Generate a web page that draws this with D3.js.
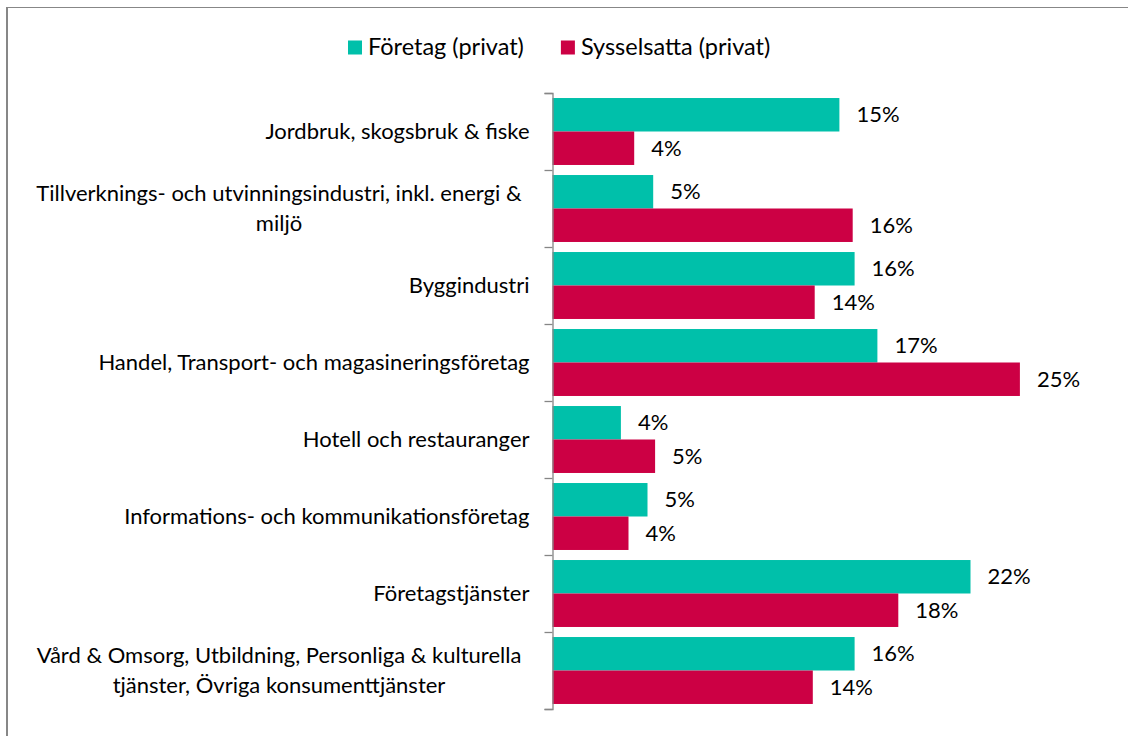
<!DOCTYPE html>
<html>
<head>
<meta charset="utf-8">
<title>Företag och sysselsatta per bransch</title>
<script src="https://cdn.jsdelivr.net/npm/d3@7"></script>
<style>
    body { margin: 0; background: #fff; }
    svg text { font-family: Lato, "Open Sans", sans-serif; fill: #000; }
</style>
</head>
<body>
<div id="chart"></div>
<script>

//******************************************************************************
//**  Data
//******************************************************************************
var categories = [
    ["Jordbruk, skogsbruk & fiske"],
    ["Tillverknings- och utvinningsindustri, inkl. energi &", "miljö"],
    ["Byggindustri"],
    ["Handel, Transport- och magasineringsföretag"],
    ["Hotell och restauranger"],
    ["Informations- och kommunikationsföretag"],
    ["Företagstjänster"],
    ["Vård & Omsorg, Utbildning, Personliga & kulturella", "tjänster, Övriga konsumenttjänster"]
];
var seriesNames = ["Företag (privat)", "Sysselsatta (privat)"];
var seriesColors = ["#00C0AA", "#CC0044"];
var foretag     = [0.151, 0.053, 0.159, 0.171, 0.036, 0.050, 0.220, 0.159];
var sysselsatta = [0.043, 0.158, 0.138, 0.246, 0.054, 0.040, 0.182, 0.137];
var xDomain = [0, 0.30];


//******************************************************************************
//**  Chart
//******************************************************************************
var width = 1128, height = 736;
var margin = {top: 93, left: 552.5, bottom: 27};
var fontSize = 22;
var legendFontSize = 23.5;
var lineHeight = 30;
var labelAreaCenter = 279;

var svg = d3.select("#chart").append("svg")
    .attr("width", width)
    .attr("height", height);


//Frame around chart area (only top and left edges are visible)
svg.append("line")
    .attr("x1", 7).attr("x2", 7)
    .attr("y1", 7).attr("y2", height)
    .attr("stroke", "#878787").attr("stroke-width", 2);
svg.append("line")
    .attr("x1", 6).attr("x2", width)
    .attr("y1", 7.5).attr("y2", 7.5)
    .attr("stroke", "#878787").attr("stroke-width", 1);


//Scales
var keys = categories.map(function(d, i){ return i; });
var y0 = d3.scaleBand()
    .domain(keys)
    .range([margin.top, height - margin.bottom]);

var y1 = d3.scaleBand()
    .domain(seriesNames)
    .range([0, y0.bandwidth()])
    .paddingInner(0)
    .paddingOuter(0.15);

var x = d3.scaleLinear()
    .domain(xDomain)
    .range([margin.left, margin.left + 570]);

var fmt = d3.format(".0%");


//Build rows from the named arrays
var rows = keys.map(function(i){
    return {
        index: i,
        label: categories[i],
        values: [
            {series: seriesNames[0], color: seriesColors[0], value: foretag[i]},
            {series: seriesNames[1], color: seriesColors[1], value: sysselsatta[i]}
        ]
    };
});


//Bars
var groups = svg.append("g").selectAll("g")
    .data(rows)
    .enter().append("g")
    .attr("transform", function(d){ return "translate(0," + y0(d.index) + ")"; });

groups.selectAll("rect")
    .data(function(d){ return d.values; })
    .enter().append("rect")
    .attr("x", x(0))
    .attr("y", function(d){ return y1(d.series); })
    .attr("width", function(d){ return x(d.value) - x(0); })
    .attr("height", y1.bandwidth())
    .attr("fill", function(d){ return d.color; });


//Data labels
groups.selectAll("text.value")
    .data(function(d){ return d.values; })
    .enter().append("text")
    .attr("class", "value")
    .attr("x", function(d){ return x(d.value) + 17; })
    .attr("y", function(d){ return y1(d.series) + y1.bandwidth()/2; })
    .attr("dy", "0.35em")
    .style("font-size", fontSize + "px")
    .text(function(d){ return fmt(d.value); });


//Category axis (line + outer ticks between categories)
var axis = d3.axisLeft(d3.scaleLinear()
        .domain([0, categories.length])
        .range([margin.top, height - margin.bottom]))
    .ticks(categories.length)
    .tickSize(8)
    .tickSizeOuter(8)
    .tickFormat("");

var axisG = svg.append("g")
    .attr("transform", "translate(" + margin.left + ",0)")
    .call(axis);
axisG.selectAll("path, line").attr("stroke", "#868686").attr("stroke-width", 1.3);


//Category labels
var labels = svg.append("g").selectAll("text")
    .data(rows)
    .enter().append("text")
    .style("font-size", fontSize + "px")
    .attr("text-anchor", function(d){ return d.label.length > 1 ? "middle" : "end"; })
    .attr("y", function(d){ return y0(d.index) + y0.bandwidth()/2; });

labels.selectAll("tspan")
    .data(function(d){
        return d.label.map(function(t, i){ return {text: t, i: i, n: d.label.length}; });
    })
    .enter().append("tspan")
    .attr("x", function(d){ return d.n > 1 ? labelAreaCenter : margin.left - 23; })
    .attr("dy", function(d){
        var offset = (d.i === 0) ? (7.7 - (d.n - 1)/2*lineHeight) : lineHeight;
        return offset;
    })
    .text(function(d){ return d.text; });


//Legend
var legend = svg.append("g").attr("transform", "translate(348,0)");
var lx = 0;
seriesNames.forEach(function(name, i){
    var item = legend.append("g").attr("transform", "translate(" + lx + ",0)");
    item.append("rect")
        .attr("x", 0).attr("y", 40.5)
        .attr("width", 14).attr("height", 14)
        .attr("fill", seriesColors[i]);
    var t = item.append("text")
        .attr("x", 20).attr("y", 55)
        .style("font-size", legendFontSize + "px")
        .text(name);
    lx += 20 + t.node().getComputedTextLength() + 37;
});

</script>
</body>
</html>
